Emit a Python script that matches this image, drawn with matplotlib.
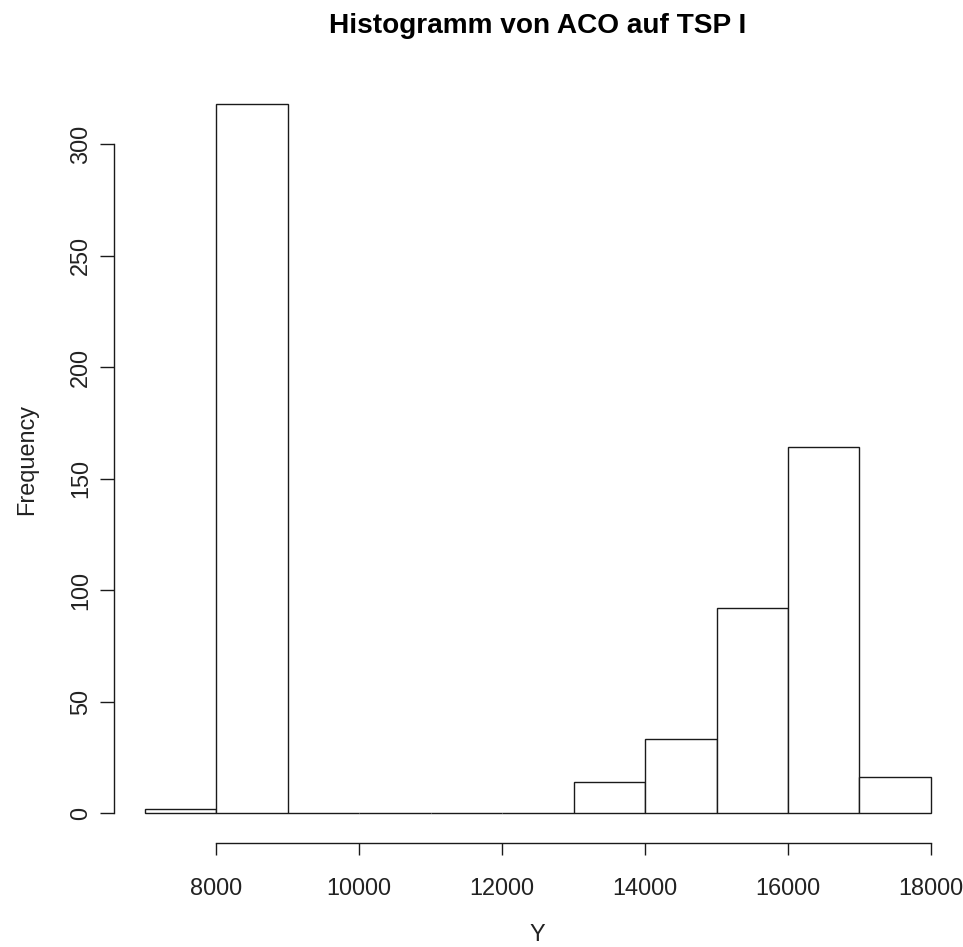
import matplotlib
matplotlib.use("Agg")
import matplotlib.pyplot as plt

# Histogram counts per 1000-wide bin of Y
bin_edges = [7000, 8000, 9000, 10000, 11000, 12000, 13000, 14000, 15000, 16000, 17000, 18000]
counts = [2, 318, 0, 0, 0, 0, 14, 33, 92, 164, 16]
x_ticks = [8000, 10000, 12000, 14000, 16000, 18000]
y_ticks = [0, 50, 100, 150, 200, 250, 300]

title = "Histogramm von ACO auf TSP I"
xlabel = "Y"
ylabel = "Frequency"

W, H, DPI = 963, 947, 100
FONT = "Liberation Sans"
LINE = "#1a1a1a"
fs = 23.5 * 72 / DPI  # 23.5 px

fig = plt.figure(figsize=(W / DPI, H / DPI), dpi=DPI)
fig.patch.set_facecolor("white")

# plot region in pixels
left_px, right_px, top_px, bottom_px = 114.3, 960.0, 76.0, 842.7
ax = fig.add_axes([left_px / W, 1 - bottom_px / H,
                   (right_px - left_px) / W, (bottom_px - top_px) / H])
ax.set_xlim(6577.6, 18405.6)
ax.set_ylim(-13.3, 330.6)

widths = [b - a for a, b in zip(bin_edges[:-1], bin_edges[1:])]
ax.bar(bin_edges[:-1], counts, width=widths, align="edge",
       facecolor="white", edgecolor=LINE, linewidth=1.0)

for s in ("top", "right"):
    ax.spines[s].set_visible(False)
for s in ("left", "bottom"):
    ax.spines[s].set_color(LINE)
    ax.spines[s].set_linewidth(1.0)
ax.spines["bottom"].set_bounds(x_ticks[0], x_ticks[-1])
ax.spines["left"].set_bounds(y_ticks[0], y_ticks[-1])

ax.set_xticks(x_ticks)
ax.set_xticklabels([str(v) for v in x_ticks])
ax.set_yticks(y_ticks)
ax.set_yticklabels([str(v) for v in y_ticks], rotation=90, va="center")

ax.tick_params(axis="x", length=12 * 72 / DPI, width=1.0, color=LINE,
               pad=22.5 * 72 / DPI, labelsize=fs, labelcolor="#222222")
ax.tick_params(axis="y", length=14 * 72 / DPI, width=1.0, color=LINE,
               pad=8 * 72 / DPI, labelsize=fs, labelcolor="#222222")
for lab in ax.get_xticklabels() + ax.get_yticklabels():
    lab.set_fontfamily(FONT)

cx = (left_px + right_px) / 2
fig.text(cx / W, 1 - 33 / H, title, ha="center", va="baseline",
         fontsize=28 * 72 / DPI, fontweight="bold", family=FONT, color="black")
fig.text(cx / W, 1.5 / H, xlabel, ha="center", va="bottom",
         fontsize=fs, family=FONT, color="#222222")
fig.text(27 / W, 1 - ((top_px + bottom_px) / 2) / H, ylabel, ha="center",
         va="center", rotation=90, fontsize=fs, family=FONT, color="#222222")

fig.savefig("out.png", dpi=DPI, facecolor="white")
